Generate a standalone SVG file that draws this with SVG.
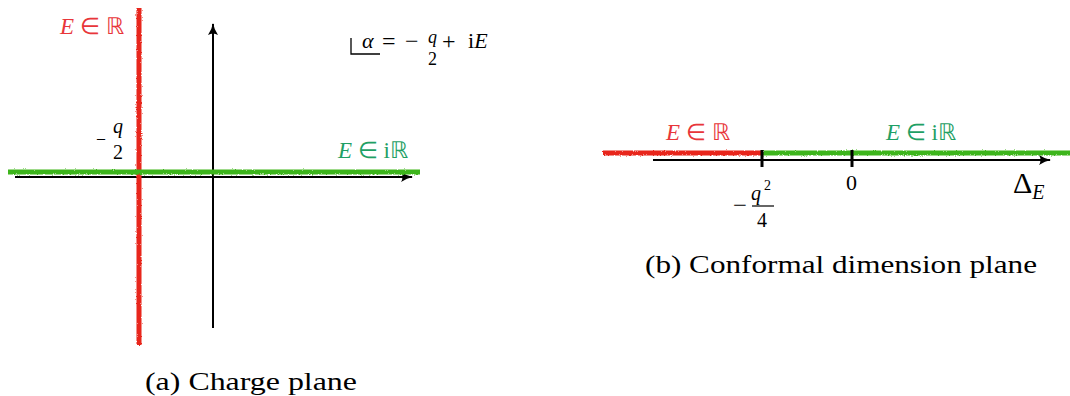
<svg xmlns="http://www.w3.org/2000/svg" width="1070" height="396" viewBox="0 0 1070 396">
<style>
.t{font-family:'Liberation Serif', 'Times New Roman', serif}
.it{font-style:italic}
.red{fill:#e8363a}
.grn{fill:#1fa065}
.ax{stroke:#000;stroke-width:2;fill:none}
.rl{stroke:#e8251c;stroke-width:5;fill:none}
.gl{stroke:#3db51c;stroke-width:5;fill:none}
.tick{stroke:#000;stroke-width:3}
</style>
<defs>
<marker id="arr" viewBox="0 0 12 10" refX="11" refY="5" markerWidth="12" markerHeight="10" markerUnits="userSpaceOnUse" orient="auto">
<path d="M0,0 Q6,4 12,5 Q6,6 0,10 Q3,5 0,0 Z" fill="#000"/>
</marker>
<filter id="rough" filterUnits="userSpaceOnUse" x="0" y="0" width="1070" height="396">
<feTurbulence type="fractalNoise" baseFrequency="0.9" numOctaves="2" seed="3" result="n"/>
<feDisplacementMap in="SourceGraphic" in2="n" scale="2.5" xChannelSelector="R" yChannelSelector="G"/>
</filter>
</defs>

<g id="connectors">
<line class="ax" x1="15" y1="177" x2="412" y2="177" marker-end="url(#arr)"/>
<line class="ax" x1="213" y1="328" x2="213" y2="24" marker-end="url(#arr)"/>
<line class="tick" x1="139" y1="172" x2="139" y2="183"/>
<line class="ax" x1="653" y1="160" x2="1050" y2="160" marker-end="url(#arr)"/>
</g>

<g id="left-lines" filter="url(#rough)">
<line class="rl" x1="139" y1="8" x2="139" y2="345"/>
<line class="gl" x1="8" y1="172" x2="420" y2="172"/>
</g>

<g id="right-lines" filter="url(#rough)">
<line class="rl" x1="603" y1="153" x2="762" y2="153"/>
<line class="gl" x1="763" y1="153" x2="1070" y2="153"/>
</g>
<g id="right-ticks">
<line class="tick" x1="762" y1="150" x2="762" y2="167"/>
<line class="tick" x1="852" y1="150" x2="852" y2="167"/>
</g>

<g font-family="Liberation Serif, Times New Roman, serif">
<g id="label-ER-left">
<text x="60" y="34" font-size="23" class="t red"><tspan class="it">E</tspan> ∈ ℝ</text>
</g>
<g id="label-q2-left">
<text x="96" y="146" font-size="20" class="t" textLength="10" lengthAdjust="spacingAndGlyphs">−</text>
<text x="113" y="133" font-size="20" class="t it">q</text>
<text x="113" y="159" font-size="20" class="t">2</text>
</g>
<g id="label-EiR-left">
<text x="338" y="158" font-size="23" class="t grn"><tspan class="it">E</tspan> ∈ iℝ</text>
</g>
<g id="label-alpha">
<path d="M351,38 L351,54 L380,54" stroke="#000" stroke-width="1.3" fill="none"/>
<text x="362" y="48" font-size="22" class="t it">α</text>
<text x="382" y="49" font-size="24" class="t">=</text>
<text x="405" y="49" font-size="24" class="t">−</text>
<text x="428" y="43" font-size="18" class="t it">q</text>
<text x="428" y="65" font-size="18" class="t">2</text>
<text x="442" y="49" font-size="24" class="t">+</text>
<text x="468" y="48" font-size="22" class="t">i<tspan class="it">E</tspan></text>
</g>
<g id="caption-a">
<text x="145" y="390" font-size="25" class="t" textLength="212" lengthAdjust="spacingAndGlyphs">(a) Charge plane</text>
</g>

<g id="label-ER-right">
<text x="666" y="140" font-size="23" class="t red"><tspan class="it">E</tspan> ∈ ℝ</text>
</g>
<g id="label-EiR-right">
<text x="886" y="140" font-size="23" class="t grn"><tspan class="it">E</tspan> ∈ iℝ</text>
</g>
<g id="label-zero">
<text x="846" y="190" font-size="22" class="t">0</text>
</g>
<g id="label-q24">
<text x="733" y="213" font-size="24" class="t" textLength="14" lengthAdjust="spacingAndGlyphs">−</text>
<text x="751" y="200" font-size="20" class="t it">q</text>
<text x="764" y="190" font-size="14" class="t">2</text>
<line x1="752" y1="206" x2="774" y2="206" stroke="#000" stroke-width="1.2"/>
<text x="757" y="227" font-size="20" class="t">4</text>
</g>
<g id="label-DeltaE">
<text x="1013" y="193" font-size="30" class="t">Δ<tspan class="it" font-size="20" dy="6">E</tspan></text>
</g>
<g id="caption-b">
<text x="645" y="273" font-size="25" class="t" textLength="392" lengthAdjust="spacingAndGlyphs">(b) Conformal dimension plane</text>
</g>
</g>
</svg>
